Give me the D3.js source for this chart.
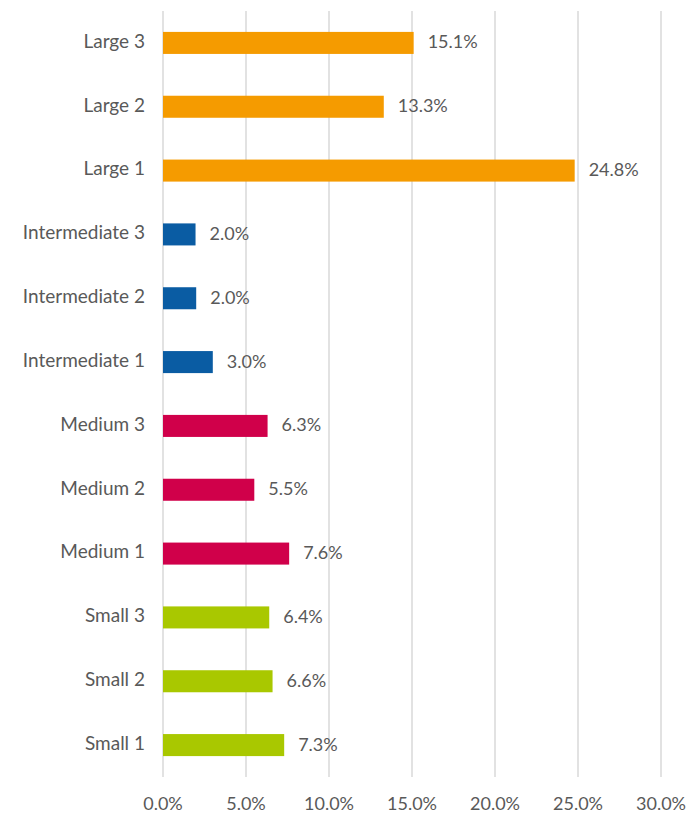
<!DOCTYPE html>
<html>
<head>
<meta charset="utf-8">
<script src="https://cdn.jsdelivr.net/npm/d3@7"></script>
<style>
  body { margin: 0; background: #fff; }
  text { font-family: Lato, "Open Sans", sans-serif; fill: #595959; }
</style>
</head>
<body>
<div id="chart"></div>
<script>
const categories = ["Large 3", "Large 2", "Large 1",
  "Intermediate 3", "Intermediate 2", "Intermediate 1",
  "Medium 3", "Medium 2", "Medium 1",
  "Small 3", "Small 2", "Small 1"];
const values = [15.1, 13.3, 24.8, 1.96, 2.0, 3.0, 6.3, 5.5, 7.6, 6.4, 6.6, 7.3];
const groups = ["Large", "Large", "Large",
  "Intermediate", "Intermediate", "Intermediate",
  "Medium", "Medium", "Medium",
  "Small", "Small", "Small"];
const groupNames = ["Large", "Intermediate", "Medium", "Small"];
const groupColors = ["#f59b00", "#0a5ca3", "#d0004a", "#a9c800"];
const ticks = [0, 5, 10, 15, 20, 25, 30];

const width = 688;
const height = 813;

const data = categories.map((c, i) => ({ name: c, value: values[i], group: groups[i] }));

const svg = d3.select("#chart")
  .append("svg")
  .attr("width", width)
  .attr("height", height);

const x = d3.scaleLinear()
  .domain([0, 30])
  .range([163, 661]);

const y = d3.scaleBand()
  .domain(categories)
  .range([11, 777])
  .paddingInner(0.655)
  .paddingOuter(0.3275);

const color = d3.scaleOrdinal()
  .domain(groupNames)
  .range(groupColors);

// gridlines
svg.append("g")
  .selectAll("line")
  .data(ticks)
  .enter()
  .append("line")
  .attr("x1", d => x(d))
  .attr("x2", d => x(d))
  .attr("y1", 11)
  .attr("y2", 777)
  .attr("stroke", "#d9d9d9")
  .attr("stroke-width", 1.5);

// x tick labels
svg.append("g")
  .selectAll("text")
  .data(ticks)
  .enter()
  .append("text")
  .attr("x", d => x(d))
  .attr("y", 805)
  .attr("text-anchor", "middle")
  .attr("dominant-baseline", "middle")
  .style("font-size", "18px")
  .text(d => d.toFixed(1) + "%");

// category labels
svg.append("g")
  .selectAll("text")
  .data(data)
  .enter()
  .append("text")
  .attr("x", 145)
  .attr("y", d => y(d.name) + y.bandwidth() / 2)
  .attr("text-anchor", "end")
  .attr("dominant-baseline", "middle")
  .style("font-size", "19px")
  .text(d => d.name);

// bars
svg.append("g")
  .selectAll("rect")
  .data(data)
  .enter()
  .append("rect")
  .attr("x", x(0))
  .attr("y", d => y(d.name))
  .attr("width", d => x(d.value) - x(0))
  .attr("height", y.bandwidth())
  .attr("fill", d => color(d.group));

// value labels
svg.append("g")
  .selectAll("text")
  .data(data)
  .enter()
  .append("text")
  .attr("x", d => x(d.value) + 14)
  .attr("y", d => y(d.name) + y.bandwidth() / 2 + 1)
  .attr("dominant-baseline", "middle")
  .style("font-size", "18px")
  .text(d => d.value.toFixed(1) + "%");
</script>
</body>
</html>
